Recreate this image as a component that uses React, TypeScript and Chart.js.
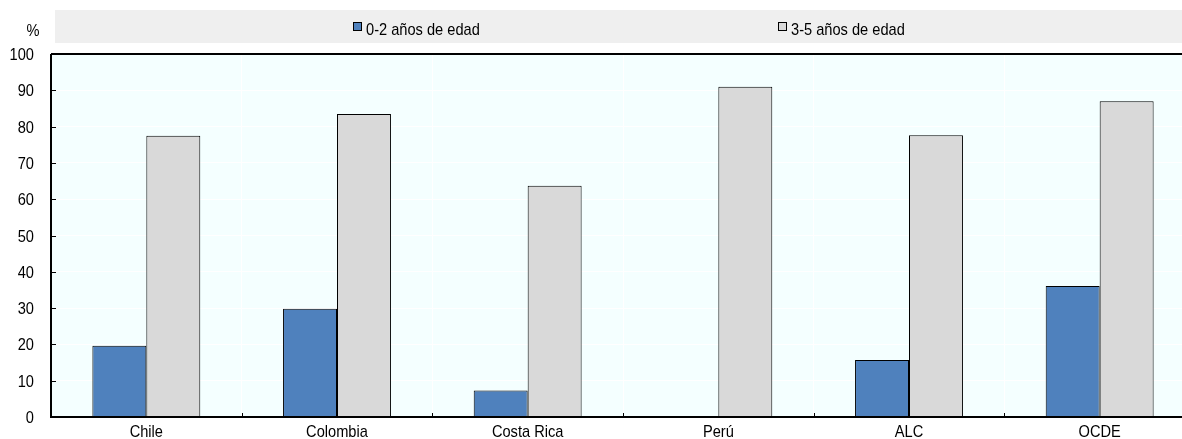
import React, { useEffect, useRef } from "react";
import { Chart, registerables } from "chart.js";

Chart.register(...registerables);

const categories = ["Chile", "Colombia", "Costa Rica", "Perú", "ALC", "OCDE"];
const series02: (number | null)[] = [19.6, 29.8, 7.3, null, 15.7, 36.1];
const series35: number[] = [77.5, 83.5, 63.7, 91.0, 77.6, 87.0];
const seriesLabels = ["0-2 años de edad", "3-5 años de edad"];
const seriesColors = ["#4F81BD", "#D9D9D9"];
const yTickValues = [0, 10, 20, 30, 40, 50, 60, 70, 80, 90, 100];
const yUnit = "%";

const FONT = "'Liberation Sans', Arial, sans-serif";
const FONT_SIZE = 17;
const SCALE_X = 0.86;

function drawText(ctx: CanvasRenderingContext2D, text: string, x: number, y: number, align: CanvasTextAlign) {
  ctx.save();
  ctx.translate(x, y);
  ctx.scale(SCALE_X, 1);
  ctx.textAlign = align;
  ctx.textBaseline = "alphabetic";
  ctx.fillText(text, 0, 0);
  ctx.restore();
}

const decorPlugin = {
  id: "decor",
  beforeDraw(chart: any) {
    const { ctx, chartArea } = chart;
    ctx.save();
    ctx.fillStyle = "#F4FFFF";
    ctx.fillRect(chartArea.left, chartArea.top, chartArea.right - chartArea.left, chartArea.bottom - chartArea.top);
    ctx.restore();
  },
  afterDraw(chart: any) {
    const { ctx, chartArea } = chart;
    const x = chart.scales.x;
    const y = chart.scales.y;
    ctx.save();
    // axes
    ctx.strokeStyle = "#000";
    ctx.lineWidth = 2;
    ctx.beginPath();
    ctx.moveTo(chartArea.left, chartArea.top);
    ctx.lineTo(chartArea.right, chartArea.top);
    ctx.moveTo(chartArea.left, chartArea.top);
    ctx.lineTo(chartArea.left, chartArea.bottom);
    ctx.lineTo(chartArea.right, chartArea.bottom);
    ctx.stroke();
    // inside ticks
    ctx.lineWidth = 1;
    ctx.beginPath();
    yTickValues.forEach((v) => {
      const py = Math.round(y.getPixelForValue(v)) + 0.5;
      ctx.moveTo(chartArea.left, py);
      ctx.lineTo(chartArea.left + 5, py);
    });
    for (let i = 1; i < categories.length; i++) {
      const px = Math.round((x.getPixelForValue(i - 1) + x.getPixelForValue(i)) / 2) + 0.5;
      ctx.moveTo(px, chartArea.bottom);
      ctx.lineTo(px, chartArea.bottom - 4);
    }
    ctx.stroke();
    // tick labels
    ctx.font = `${FONT_SIZE}px ${FONT}`;
    ctx.fillStyle = "#000";
    yTickValues.forEach((v) => {
      drawText(ctx, String(v), 34, y.getPixelForValue(v) + 6, "right");
    });
    categories.forEach((c, i) => {
      drawText(ctx, c, x.getPixelForValue(i), chartArea.bottom + 20, "center");
    });
    // legend
    ctx.fillStyle = "#EFEFEF";
    ctx.fillRect(55, 10, chart.width - 55, 33);
    const legendX = [353, 778];
    seriesLabels.forEach((lab, i) => {
      ctx.fillStyle = seriesColors[i];
      ctx.fillRect(legendX[i], 22, 9, 9);
      ctx.strokeStyle = "#000";
      ctx.lineWidth = 1;
      ctx.strokeRect(legendX[i] + 0.5, 22.5, 8, 8);
      ctx.fillStyle = "#000";
      drawText(ctx, lab, legendX[i] + 13, 35, "left");
    });
    // unit
    drawText(ctx, yUnit, 33, 36, "center");
    ctx.restore();
  },
};

export default function App() {
  const ref = useRef<HTMLCanvasElement | null>(null);
  useEffect(() => {
    document.body.style.margin = "0";
    if (!ref.current) return;
    const chart = new Chart(ref.current, {
      type: "bar",
      data: {
        labels: categories,
        datasets: [
          {
            label: seriesLabels[0],
            data: series02,
            backgroundColor: seriesColors[0],
            borderColor: "#000",
            borderWidth: 1,
            categoryPercentage: 0.566,
            barPercentage: 1,
          },
          {
            label: seriesLabels[1],
            data: series35,
            backgroundColor: seriesColors[1],
            borderColor: "#000",
            borderWidth: 1,
            categoryPercentage: 0.566,
            barPercentage: 1,
          },
        ],
      },
      options: {
        responsive: false,
        animation: false,
        devicePixelRatio: 1,
        layout: { padding: { top: 54, left: 0, right: 0, bottom: 0 } },
        plugins: { legend: { display: false }, tooltip: { enabled: false } },
        scales: {
          x: {
            offset: true,
            grid: { display: true, offset: true, color: "#FFFFFF", lineWidth: 1, drawTicks: false },
            border: { display: false },
            ticks: { display: false },
            afterFit: (s: any) => { s.height = 22; },
          },
          y: {
            min: 0,
            max: 100,
            grid: { color: "#FFFFFF", lineWidth: 1, drawTicks: false },
            border: { display: false },
            afterBuildTicks: (s: any) => { s.ticks = yTickValues.map((v) => ({ value: v })); },
            ticks: { display: false },
            afterFit: (s: any) => { s.width = 51; },
          },
        },
      },
      plugins: [decorPlugin],
    });
    return () => chart.destroy();
  }, []);
  return (
    <div style={{ width: 1182, height: 439, overflow: "hidden", position: "relative", background: "#fff" }}>
      <canvas ref={ref} width={1195} height={439} style={{ display: "block" }} />
    </div>
  );
}
